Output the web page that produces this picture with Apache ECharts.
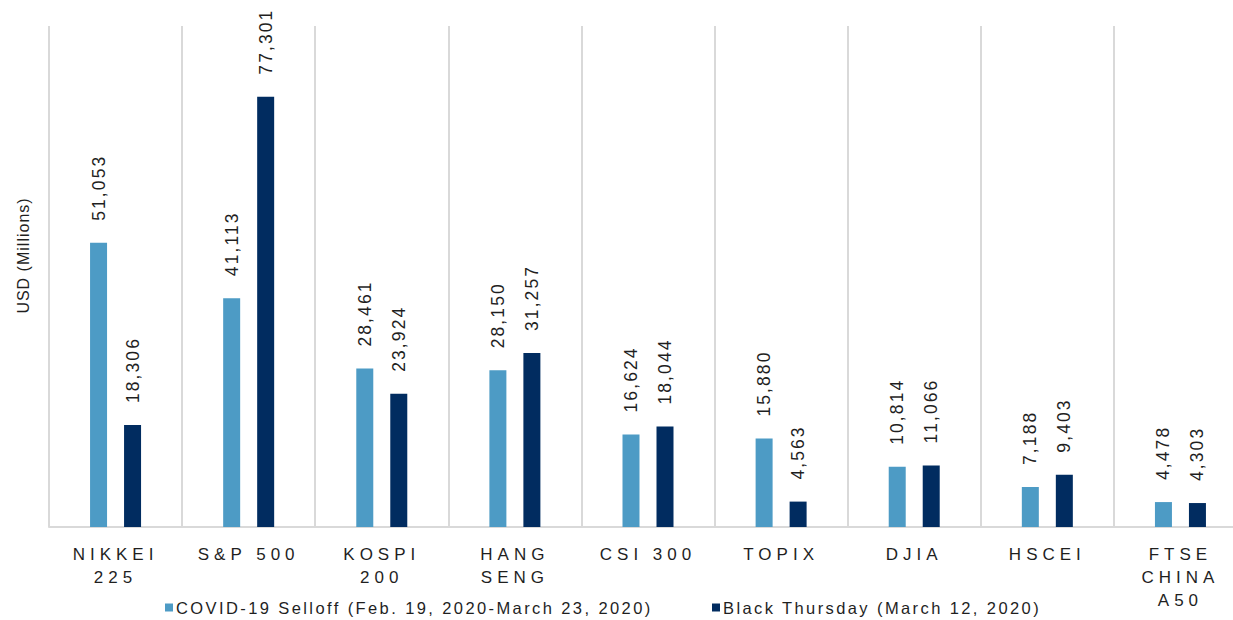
<!DOCTYPE html>
<html>
<head>
<meta charset="utf-8">
<script src="https://cdn.jsdelivr.net/npm/echarts@6/dist/echarts.min.js"></script>
<style>
  html, body { margin: 0; padding: 0; background: #fff; overflow: hidden; }
  #chart { width: 1247px; height: 620px; }
</style>
</head>
<body>
<div id="chart"></div>
<script>
// categories (line breaks as in the original axis)
const categories = ['NIKKEI\n225', 'S&P 500', 'KOSPI\n200', 'HANG\nSENG', 'CSI 300', 'TOPIX', 'DJIA', 'HSCEI', 'FTSE\nCHINA\nA50']
const covidName = 'COVID-19 Selloff (Feb. 19, 2020-March 23, 2020)'
const blackName = 'Black Thursday (March 12, 2020)'
// USD millions
const covidValues = [51053, 41113, 28461, 28150, 16624, 15880, 10814, 7188, 4478]
const blackValues = [18306, 77301, 23924, 31257, 18044, 4563, 11066, 9403, 4303]

const font = 'Liberation Sans, Arial, sans-serif'
const textColor = '#1f1f1f'
const gridColor = '#d9d9d9'

// the original uses expanded character spacing; keyed by font size
const spacing = { 17: '5px', 17.5: '2.1px', 16.5: '2.4px', 16: '1px' }

const chart = echarts.init(document.getElementById('chart'), null, { renderer: 'svg' })

const valueLabel = {
  show: true,
  position: 'top',
  rotate: 90,
  align: 'left',
  verticalAlign: 'middle',
  distance: 22,
  color: textColor,
  fontFamily: font,
  fontSize: 17.5,
  formatter: (p) => p.value.toLocaleString('en-US')
}

const legendText = { color: textColor, fontFamily: font, fontSize: 16.5, padding: [0, 0, 0, -2] }

chart.setOption({
  animation: false,
  grid: {
    left: 49,
    right: 0,
    top: 26,
    bottom: 93
  },
  legend: [
    {
      data: [covidName],
      left: 160,
      top: 594,
      icon: 'rect',
      itemWidth: 8,
      itemHeight: 8,
      textStyle: legendText
    },
    {
      data: [blackName],
      left: 707,
      top: 594,
      icon: 'rect',
      itemWidth: 8,
      itemHeight: 8,
      textStyle: legendText
    }
  ],
  xAxis: {
    type: 'category',
    data: categories,
    axisTick: { show: false },
    axisLine: { lineStyle: { color: gridColor, width: 2 } },
    splitLine: { show: true, lineStyle: { color: gridColor, width: 2 } },
    axisLabel: {
      margin: 16,
      interval: 0,
      color: textColor,
      fontFamily: font,
      fontSize: 17,
      lineHeight: 23
    }
  },
  yAxis: {
    type: 'value',
    min: 0,
    max: 90000,
    name: 'USD (Millions)',
    nameLocation: 'middle',
    nameGap: 18,
    nameTextStyle: { color: textColor, fontFamily: font, fontSize: 16, padding: [0, 0, 0, 42] },
    axisLabel: { show: false },
    axisLine: { show: false },
    axisTick: { show: false },
    splitLine: { show: false }
  },
  series: [
    {
      name: covidName,
      type: 'bar',
      data: covidValues,
      barWidth: 17,
      barGap: '100%',
      itemStyle: { color: '#4d9bc5' },
      label: valueLabel
    },
    {
      name: blackName,
      type: 'bar',
      data: blackValues,
      barWidth: 17,
      itemStyle: { color: '#012c60' },
      label: valueLabel
    }
  ]
})

function spaceText() {
  document.querySelectorAll('#chart text').forEach((t) => {
    const size = parseFloat(getComputedStyle(t).fontSize)
    if (spacing[size]) t.style.letterSpacing = spacing[size]
  })
}
chart.on('finished', spaceText)
spaceText()
</script>
</body>
</html>
